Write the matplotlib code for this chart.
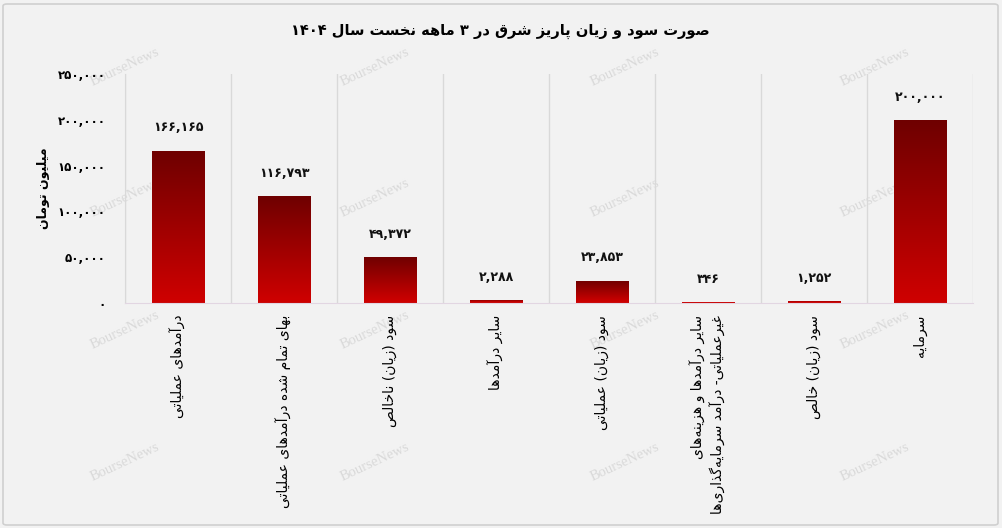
import re
import unicodedata
import numpy as np
import matplotlib
matplotlib.use("Agg")
import matplotlib.pyplot as plt
from matplotlib.patches import FancyBboxPatch
from matplotlib.colors import LinearSegmentedColormap

# ---------------- data ----------------
title = "صورت سود و زیان پاریز شرق در ۳ ماهه نخست سال ۱۴۰۴"
ylabel = "میلیون تومان"
categories = [
    "درآمدهای عملیاتی",
    "بهای تمام شده درآمدهای عملیاتی",
    "سود (زیان) ناخالص",
    "سایر درآمدها",
    "سود (زیان) عملیاتی",
    "سایر درآمدها و هزینه\u200cهای\nغیرعملیاتی- درآمد سرمایه\u200cگذاری\u200cها",
    "سود (زیان) خالص",
    "سرمایه",
]
values = [166165, 116793, 49372, 2288, 23853, 346, 1252, 200000]
yticks = [0, 50000, 100000, 150000, 200000, 250000]
watermark = "BourseNews"

# ---------------- simple Persian shaping ----------------
DUAL = set("بپتثجچحخسشصضطظعغفقکگلمنهیئيك")
RIGHT = set("اآأإدذرزژوؤة")
PERSIAN_DIGITS = "۰۱۲۳۴۵۶۷۸۹"


def to_fa_digits(s):
    return "".join(PERSIAN_DIGITS[int(c)] if c.isdigit() and c.isascii() else c for c in s)


def _form(ch, form):
    try:
        return unicodedata.lookup(unicodedata.name(ch) + " " + form + " FORM")
    except KeyError:
        return ch


def _shape_line(text):
    chars = list(text)
    n = len(chars)
    out = []
    for i, c in enumerate(chars):
        if c not in DUAL and c not in RIGHT:
            out.append(c)
            continue
        prev = chars[i - 1] if i > 0 else None
        nxt = chars[i + 1] if i < n - 1 else None
        jp = prev is not None and prev in DUAL
        jn = c in DUAL and nxt is not None and (nxt in DUAL or nxt in RIGHT)
        if jp and jn:
            f = "MEDIAL"
        elif jp:
            f = "FINAL"
        elif jn:
            f = "INITIAL"
        else:
            f = "ISOLATED"
        out.append(_form(c, f))
    s = "".join(out).replace("\u200c", "")
    tokens = re.findall(r"[0-9\u06F0-\u06F9A-Za-z]+(?:[,.][0-9\u06F0-\u06F9]+)*|.", s)
    mirror = {"(": ")", ")": "("}
    tokens = [mirror.get(t, t) for t in tokens[::-1]]
    return "".join(tokens)


def fa(text):
    return "\n".join(_shape_line(line) for line in text.split("\n"))


def fmt(v):
    return to_fa_digits(f"{v:,}")


# ---------------- figure ----------------
plt.rcParams["font.family"] = ["DejaVu Sans"]
W, H = 1002, 528
fig = plt.figure(figsize=(W / 100, H / 100), dpi=100, facecolor="#f2f2f2")

# outer border
fig.patches.append(FancyBboxPatch((3 / W, 3 / H), (W - 7) / W, (H - 7) / H,
                                  boxstyle="round,pad=0,rounding_size=0.004",
                                  transform=fig.transFigure, fill=False,
                                  edgecolor="#d0d0d0", linewidth=1.2))

# watermarks
for wx in [125, 375, 625, 875]:
    for wy in [67, 198, 330, 462]:
        fig.text(wx / W, 1 - wy / H, watermark, rotation=25, ha="center", va="center",
                 color="#d9d9d9", fontsize=10.5, family="Liberation Serif", zorder=-1)

ax_left, ax_right = 125 / W, 973 / W
ax_top, ax_bot = 1 - 74.4 / H, 1 - 302.5 / H
ax = fig.add_axes([ax_left, ax_bot, ax_right - ax_left, ax_top - ax_bot])
ax.patch.set_alpha(0)

x = np.arange(len(categories))
bars = ax.bar(x, values, width=0.5, color="#c80000", edgecolor="none", zorder=2)

cmap = LinearSegmentedColormap.from_list("rg", ["#cf0000", "#6e0000"])
grad = np.linspace(0, 1, 256).reshape(-1, 1)
for b in bars:
    bx, by = b.get_x(), b.get_y()
    bw, bh = b.get_width(), b.get_height()
    im = ax.imshow(grad, extent=[bx, bx + bw, by, by + bh], origin="lower",
                   cmap=cmap, aspect="auto", zorder=2.5, interpolation="bilinear")
    im.set_clip_path(b)

ax.set_xlim(-0.5, len(categories) - 0.5)
ax.set_ylim(0, 250000)

for sep in np.arange(-0.5, len(categories), 1.0):
    ax.axvline(sep, color="#d9d9d9", lw=1, zorder=1)

for s in ["top", "right"]:
    ax.spines[s].set_visible(False)
ax.spines["left"].set_color("#d9d9d9")
ax.spines["bottom"].set_color("#e2d6e2")
ax.spines["bottom"].set_zorder(3)

ax.set_yticks(yticks)
ax.set_yticklabels([fmt(v) for v in yticks], fontsize=8.5, fontweight="bold")
ax.tick_params(axis="y", length=0, pad=14)
ax.set_xticks(x)
ax.set_xticklabels([fa(c) for c in categories], rotation=90, fontsize=10,
                   multialignment="right", linespacing=1.3)
ax.tick_params(axis="x", length=0, pad=9)

for b, v in zip(bars, values):
    ax.annotate(fmt(v), (b.get_x() + b.get_width() / 2, b.get_height()),
                xytext=(0, 16.5), textcoords="offset points", ha="center", va="center",
                fontsize=9, fontweight="bold", color="#111111")

fig.text(43 / W, 1 - 188 / H, fa(ylabel), rotation=90, ha="center", va="center",
         fontsize=9, fontweight="bold")
fig.text(500 / W, 1 - 31 / H, fa(title), ha="center", va="center",
         fontsize=10.5, fontweight="bold")

fig.savefig("out.png", dpi=100, facecolor=fig.get_facecolor())
